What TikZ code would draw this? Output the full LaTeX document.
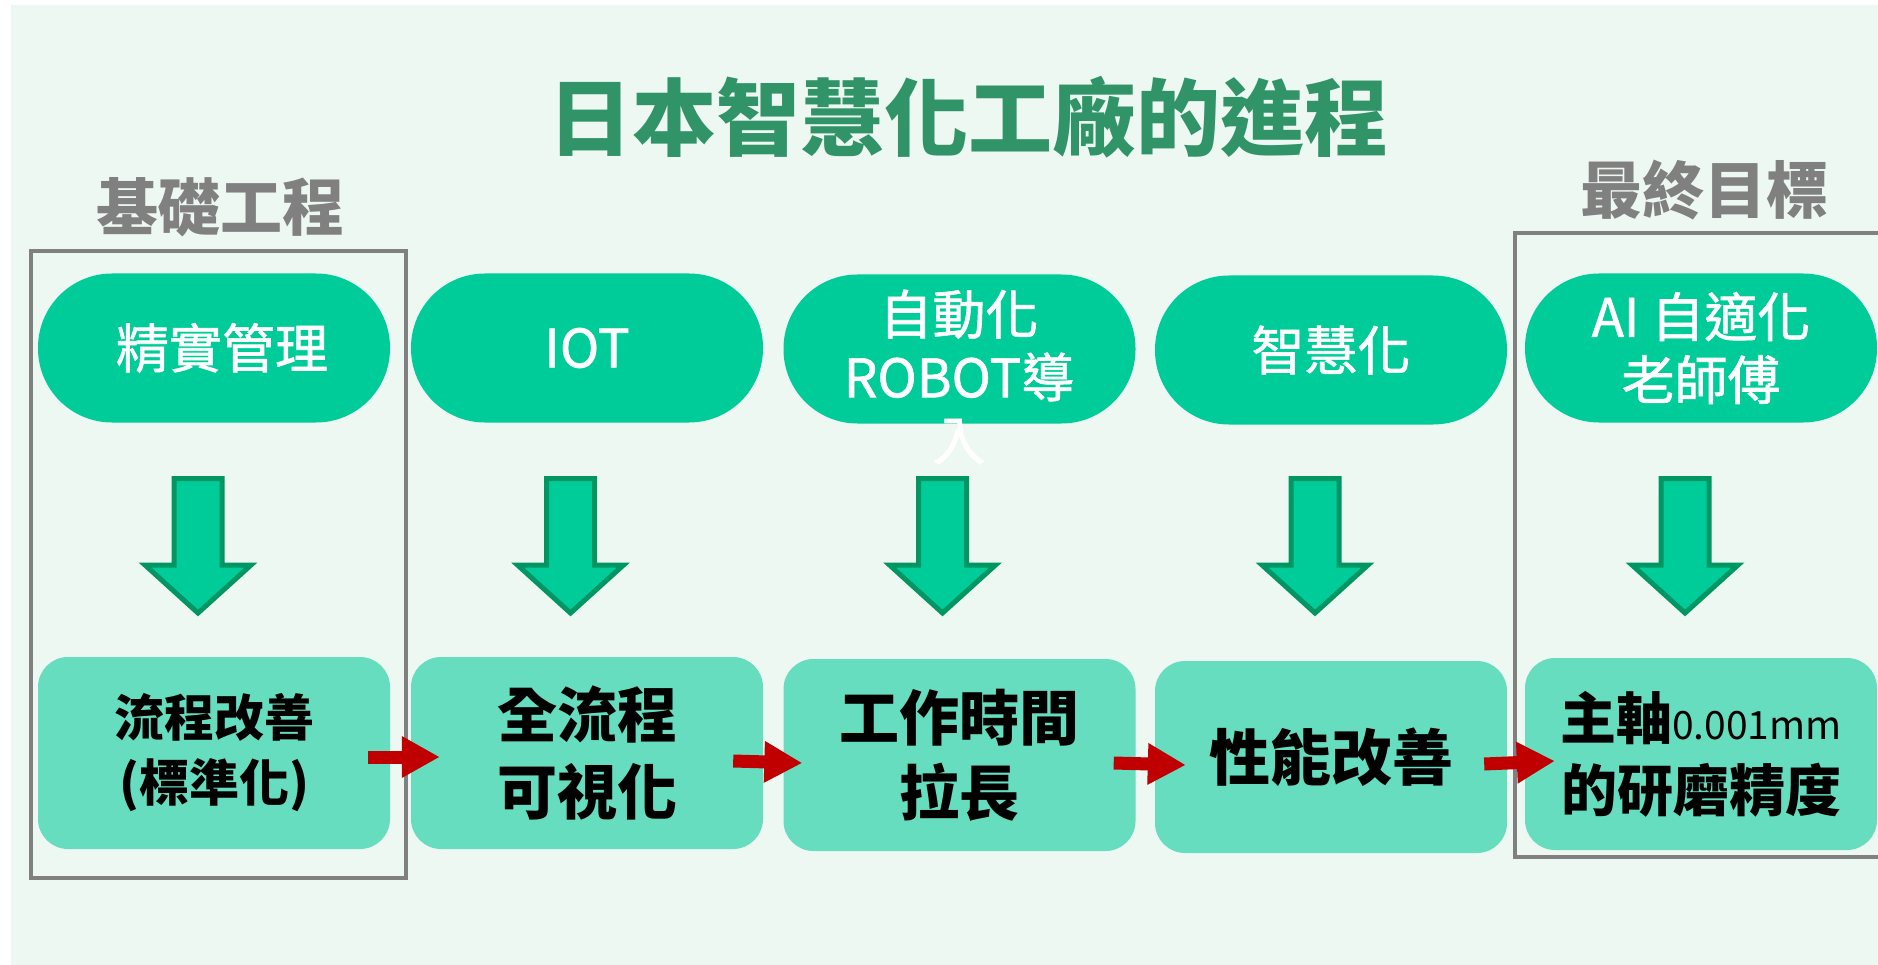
\documentclass[tikz,border=0pt]{standalone}
\usepackage{fontspec}
\setmainfont{Noto Sans CJK TC}
\newfontfamily\pillfont{Noto Sans CJK TC}[FakeBold=1.2]
\usetikzlibrary{arrows.meta,calc}
\definecolor{bgc}{RGB}{238,248,242}
\definecolor{pillc}{RGB}{0,204,153}
\definecolor{boxc}{RGB}{102,221,191}
\definecolor{arrowedge}{RGB}{0,150,100}
\definecolor{titlec}{RGB}{49,148,105}
\definecolor{grayc}{RGB}{128,128,128}
\definecolor{redc}{RGB}{192,0,0}
\tikzset{
  pill/.style={rectangle, rounded corners=74pt, fill=pillc, minimum width=352pt, minimum height=149pt, inner sep=0pt, text=white, align=center, font=\pillfont\fontsize{53}{63}\selectfont},
  pilltext/.style={inner sep=0pt, text=white, align=center, font=\pillfont\fontsize{53}{63}\selectfont},
  stepbox/.style={rectangle, rounded corners=30pt, fill=boxc, minimum width=352pt, minimum height=192pt, inner sep=0pt, text=black, align=center},
  downarrow/.style={fill=pillc, draw=arrowedge, line width=5pt, line join=miter},
  redarrow/.style={draw=redc, line width=13pt, -{Triangle[length=38pt,width=39pt]}},
  grouplabel/.style={inner sep=0pt, text=grayc, font=\fontsize{62}{70}\selectfont\bfseries},
  groupbox/.style={draw=grayc, line width=4pt},
}
\begin{document}
\begin{tikzpicture}[x=1pt,y=-1pt]
\useasboundingbox (0,0) rectangle (1878,965);
\fill[white] (0,0) rectangle (1878,965);
\fill[bgc] (11,5) rectangle (1878,965);

% title
\node[inner sep=0pt, text=titlec, font=\fontsize{84}{90}\selectfont\bfseries] (title) at (968,117) {日本智慧化工廠的進程};

% group labels and frames
\node[grouplabel] (lbase) at (220,207) {基礎工程};
\node[grouplabel] (lgoal) at (1704,190) {最終目標};
\draw[groupbox] (31,251) rectangle (406,878);
\draw[groupbox] (1890,233) -- (1515,233) -- (1515,857) -- (1890,857);

% top pills
\node[pill] (p1) at (214,348) {\hspace*{16pt}精實管理};
\node[pill] (p2) at (587,348) {IOT};
\node[pill] (p3) at (959.5,349) {};
\node[pilltext] (p3t) at (959,377) {自動化\\ROBOT導\\入};
\node[pill] (p4) at (1331,350) {智慧化};
\node[pill] (p5) at (1701,348) {\raisebox{-5pt}{AI 自適化}\\\raisebox{-5pt}{老師傅}};

% down arrows
\foreach \cx in {198,570.5,942.5,1315,1685}{
  \draw[downarrow] (\cx-24,478.5) -- (\cx+24,478.5) -- (\cx+24,565) -- (\cx+53,565)
    -- (\cx,613) -- (\cx-53,565) -- (\cx-24,565) -- cycle;
}

% bottom boxes
\node[stepbox, font=\fontsize{50}{65}\selectfont\bfseries] (b1) at (214,753) {流程改善\\(標準化)};
\node[stepbox, font=\fontsize{60}{77}\selectfont\bfseries] (b2) at (587,753) {全流程\\可視化};
\node[stepbox, font=\fontsize{60}{75}\selectfont\bfseries] (b3) at (959.5,755) {工作時間\\拉長};
\node[stepbox, font=\fontsize{61}{75}\selectfont\bfseries] (b4) at (1331,757) {性能改善};
\node[stepbox, font=\fontsize{56}{72}\selectfont\bfseries] (b5) at (1701,754) {主軸{\fontsize{39}{39}\selectfont\mdseries 0.001mm}\\的研磨精度};

% red connectors
\draw[redarrow] ($(b1.east)+(-22,4)$) -- ($(b2.west)+(29,4)$);
\draw[redarrow] ($(b2.east)+(-30,8)$) -- ($(b3.west)+(19,8)$);
\draw[redarrow] ($(b3.east)+(-22,8)$) -- ($(b4.west)+(31,8)$);
\draw[redarrow] ($(b4.east)+(-23,7)$) -- ($(b5.west)+(30,7)$);
\end{tikzpicture}
\end{document}
